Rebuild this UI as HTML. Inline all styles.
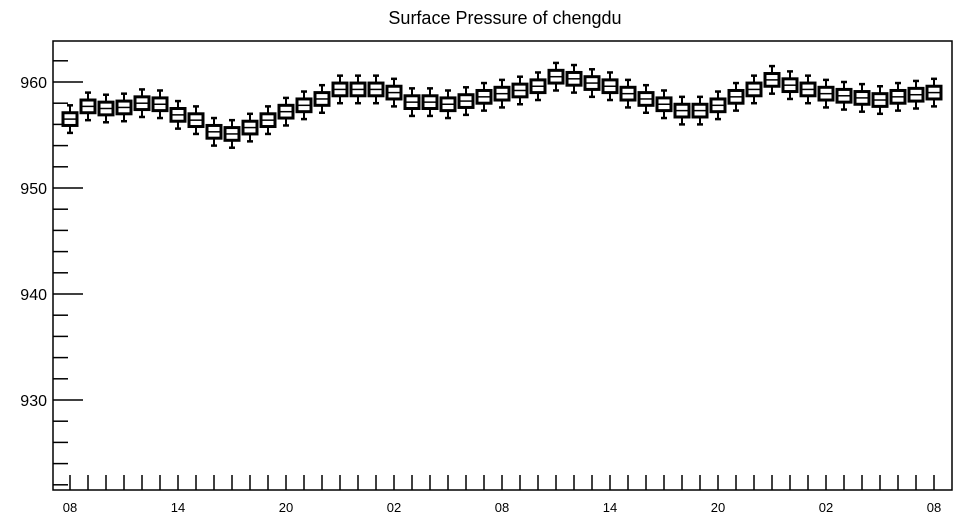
<!DOCTYPE html>
<html><head><meta charset="utf-8"><style>
body{margin:0;background:#fff;}
svg{display:block;font-family:"Liberation Sans",Arial,sans-serif;}
</style></head><body>
<svg id="c" width="958" height="520">
<text x="505" y="24" text-anchor="middle" font-size="18">Surface Pressure of chengdu</text>
<rect x="53" y="41" width="899" height="449" fill="none" stroke="#000" stroke-width="1.5"/>
<g id="axes"></g><g id="marks"></g>
</svg>
<script>
const xLabels=["08","14","20","02","08","14","20","02","08"];
const yTicks=[930,940,950,960];
const medians=[956.5,957.7,957.5,957.6,958.0,957.9,956.9,956.4,955.3,955.1,955.7,956.4,957.2,957.8,958.4,959.3,959.3,959.3,959.0,958.1,958.1,957.9,958.2,958.6,958.9,959.2,959.6,960.5,960.3,959.9,959.6,958.9,958.4,957.9,957.3,957.3,957.8,958.6,959.3,960.2,959.7,959.3,958.9,958.7,958.5,958.3,958.6,958.8,959.0];
const boxHalf=[0.6];
const whiskerHalf=[1.3];
const NS="http://www.w3.org/2000/svg";
function y(v){return 82+(960-v)*10.6;}
function x(i){return 70+i*18;}
function mk(t,a,p){const e=document.createElementNS(NS,t);for(const k in a)e.setAttribute(k,a[k]);p.appendChild(e);return e;}
const ax=document.getElementById('axes'),mg=document.getElementById('marks');
for(let v=922;v<=963;v++){
  if(v%2)continue;
  const major=v%10===0;
  const l=mk('line',{x1:53,x2:major?83:68,y1:y(v),y2:y(v),stroke:'#000','stroke-width':1.5},ax);
  
  
}
yTicks.forEach(v=>{
  const t=mk('text',{x:47,y:y(v)+6,'text-anchor':'end','font-size':16},ax);t.textContent=v;
  
  
});
for(let i=0;i<medians.length;i++){
  const l=mk('line',{x1:x(i),x2:x(i),y1:475,y2:490,stroke:'#000','stroke-width':1.5},ax);
  
  
}
xLabels.forEach((s,k)=>{
  const t=mk('text',{x:x(k*6),y:512,'text-anchor':'middle','font-size':13},ax);t.textContent=s;
  
  
});
medians.forEach((m,i)=>{
  const g=mk('g',{},mg);
  
  
  const cx=x(i),b=boxHalf[0],w=whiskerHalf[0];
  mk('line',{x1:cx,x2:cx,y1:y(m+w),y2:y(m-w),stroke:'#000','stroke-width':2},g);
  mk('line',{x1:cx-3,x2:cx+3,y1:y(m+w),y2:y(m+w),stroke:'#000','stroke-width':2.5},g);
  mk('line',{x1:cx-3,x2:cx+3,y1:y(m-w),y2:y(m-w),stroke:'#000','stroke-width':2.5},g);
  mk('rect',{x:cx-7,y:y(m+b),width:14,height:y(m-b)-y(m+b),fill:'#fff',stroke:'#000','stroke-width':3},g);
  mk('line',{x1:cx-7,x2:cx+7,y1:y(m),y2:y(m),stroke:'#000','stroke-width':1.5},g);
});
</script>
</body></html>
